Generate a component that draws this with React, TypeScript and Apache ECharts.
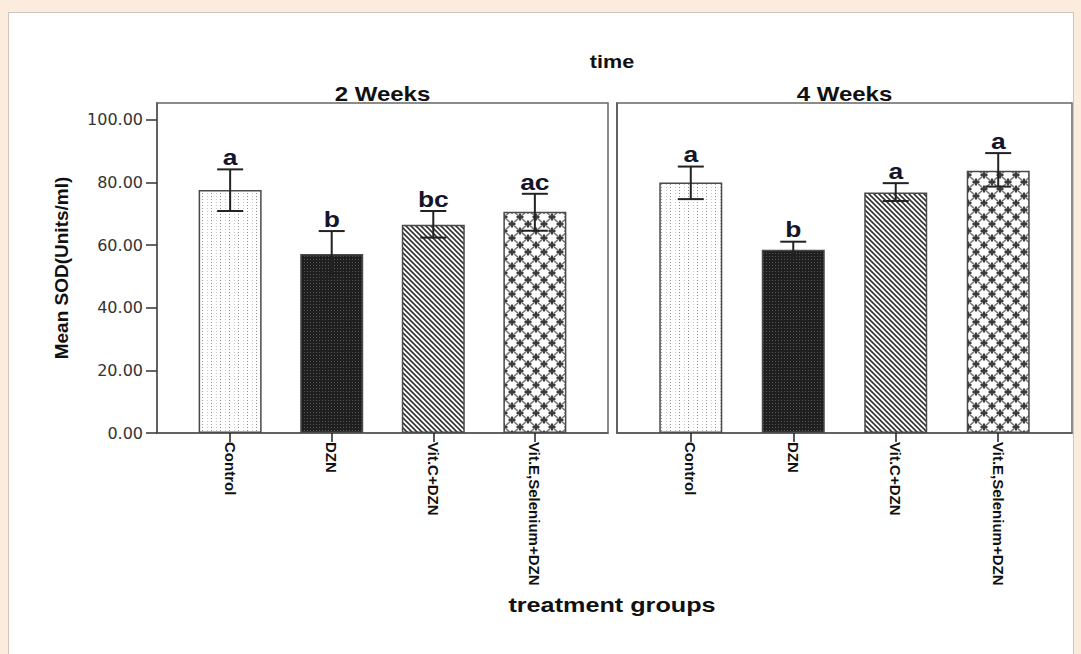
import React, { useEffect, useRef } from "react";
import * as echarts from "echarts";

const groups = ["Control", "DZN", "Vit.C+DZN", "Vit.E,Selenium+DZN"];
const panelTitles = ["2 Weeks", "4 Weeks"];
const means2w = [77.6, 57.2, 66.5, 70.7];
const low2w = [70.9, 50.2, 62.4, 64.6];
const high2w = [84.2, 64.5, 70.9, 76.4];
const letters2w = ["a", "b", "bc", "ac"];
const means4w = [80.0, 58.5, 76.8, 83.8];
const low4w = [74.7, 56.0, 74.1, 78.7];
const high4w = [85.1, 61.1, 79.8, 89.4];
const letters4w = ["a", "b", "a", "a"];
const yTicks = [0, 20, 40, 60, 80, 100];
const xPositions = [0, 1, 2, 3];

const ARIAL = "'Liberation Sans', Arial, sans-serif";

function makeCanvas(w: number, h: number, draw: (ctx: CanvasRenderingContext2D) => void) {
  const c = document.createElement("canvas");
  c.width = w;
  c.height = h;
  const ctx = c.getContext("2d")!;
  draw(ctx);
  return c;
}

function buildPatterns() {
  const dots = makeCanvas(9, 3, (ctx) => {
    ctx.fillStyle = "#ffffff";
    ctx.fillRect(0, 0, 9, 3);
    ctx.fillStyle = "#8f8f8f";
    ctx.fillRect(4, 1, 1, 1);
    ctx.fillStyle = "#c8c8c8";
    ctx.fillRect(0, 1, 1, 1);
  });
  const dark = makeCanvas(3, 3, (ctx) => {
    ctx.fillStyle = "#1f1f1f";
    ctx.fillRect(0, 0, 3, 3);
    ctx.fillStyle = "#555555";
    ctx.fillRect(1, 1, 1, 1);
  });
  const diag = makeCanvas(5, 5, (ctx) => {
    ctx.fillStyle = "#ffffff";
    ctx.fillRect(0, 0, 5, 5);
    ctx.strokeStyle = "#333333";
    ctx.lineWidth = 1.6;
    for (const o of [-5, 0, 5]) {
      ctx.beginPath();
      ctx.moveTo(o - 1, -1);
      ctx.lineTo(o + 6, 6);
      ctx.stroke();
    }
  });
  const lattice = makeCanvas(16, 14, (ctx) => {
    ctx.fillStyle = "#ffffff";
    ctx.fillRect(0, 0, 16, 14);
    ctx.strokeStyle = "#7a7a7a";
    ctx.lineWidth = 1.6;
    ctx.beginPath();
    ctx.moveTo(0, 0); ctx.lineTo(16, 14);
    ctx.moveTo(16, 0); ctx.lineTo(0, 14);
    ctx.stroke();
    ctx.strokeStyle = "#3c3c3c";
    ctx.lineWidth = 2;
    const plus = (x: number, y: number) => {
      ctx.beginPath();
      ctx.moveTo(x - 3.5, y); ctx.lineTo(x + 3.5, y);
      ctx.moveTo(x, y - 3.5); ctx.lineTo(x, y + 3.5);
      ctx.stroke();
    };
    plus(8, 7);
    plus(0, 0); plus(16, 0); plus(0, 14); plus(16, 14);
  });
  return [dots, dark, diag, lattice];
}

export default function App() {
  const ref = useRef<HTMLDivElement>(null);
  useEffect(() => {
    if (!ref.current) return;
    const chart = echarts.init(ref.current, null, { renderer: "svg" });
    const patterns = buildPatterns();
    const panels = [
      { means: means2w, low: low2w, high: high2w, letters: letters2w },
      { means: means4w, low: low4w, high: high4w, letters: letters4w },
    ];
    const grids = [
      { left: 157, top: 103, width: 451, height: 330 },
      { left: 617, top: 103, width: 455, height: 330 },
    ];
    const axisLineStyle = { color: "#555", width: 1.5 };

    const series: any[] = [];
    panels.forEach((p, pi) => {
      series.push({
        type: "bar",
        xAxisIndex: pi,
        yAxisIndex: pi,
        barWidth: 63,
        z: 2,
        data: p.means.map((m, i) => ({
          value: [xPositions[i], m],
          itemStyle: {
            color: { image: patterns[i], repeat: "repeat" },
            borderColor: "#4a4a4a",
            borderWidth: 1.5,
          },
        })),
      });
      series.push({
        type: "custom",
        xAxisIndex: pi,
        yAxisIndex: pi,
        z: 5,
        clip: false,
        data: p.means.map((m, i) => [xPositions[i], m]),
        renderItem: (params: any, api: any) => {
          const idx = params.dataIndex;
          const x = xPositions[idx];
          const hi = api.coord([x, p.high[idx]]);
          const lo = api.coord([x, p.low[idx]]);
          const cap = 13;
          const st = { stroke: "#222", lineWidth: 2 };
          return {
            type: "group",
            children: [
              { type: "line", shape: { x1: hi[0], y1: hi[1], x2: lo[0], y2: lo[1] }, style: st },
              { type: "line", shape: { x1: hi[0] - cap, y1: hi[1], x2: hi[0] + cap, y2: hi[1] }, style: st },
              { type: "line", shape: { x1: lo[0] - cap, y1: lo[1], x2: lo[0] + cap, y2: lo[1] }, style: st },
              {
                type: "text",
                x: hi[0],
                y: hi[1] - 1,
                scaleX: 1.2,
                style: {
                  text: p.letters[idx],
                  fontFamily: ARIAL,
                  fontWeight: "bold",
                  fontSize: 22,
                  fill: "#15152a",
                  align: "center",
                  verticalAlign: "bottom",
                },
              },
            ],
          };
        },
      });
    });

    const option: any = {
      animation: false,
      grid: grids.map((g) => ({
        ...g,
        show: true,
        borderColor: "#666",
        borderWidth: 1.5,
        backgroundColor: "transparent",
      })),
      xAxis: grids.map((_, gi) => ({
        type: "value",
        gridIndex: gi,
        min: -0.72,
        max: 3.72,
        axisLine: { show: true, onZero: false, lineStyle: axisLineStyle },
        splitLine: { show: false },
        axisTick: {
          show: true,
          customValues: xPositions,
          length: 9,
          lineStyle: { color: "#222", width: 1.5 },
        },
        axisLabel: {
          customValues: xPositions,
          rotate: -90,
          margin: 9,
          formatter: (v: number) => groups[Math.round(v)] ?? "",
          fontFamily: ARIAL,
          fontWeight: "bold",
          fontSize: 15,
          color: "#111",
        },
      })),
      yAxis: [
        {
          type: "value",
          gridIndex: 0,
          min: 0,
          max: 105.4,
          axisLine: { show: true, onZero: false, lineStyle: axisLineStyle },
          splitLine: { show: false },
          axisTick: { show: true, customValues: yTicks, length: 11, lineStyle: { color: "#333", width: 1.5 } },
          axisLabel: {
            customValues: yTicks,
            formatter: (v: number) => v.toFixed(2),
            fontFamily: "'DejaVu Sans', sans-serif",
            fontSize: 16,
            color: "#333",
            margin: 14,
          },
          name: "Mean SOD(Units/ml)",
          nameLocation: "middle",
          nameGap: 86,
          nameRotate: 90,
          nameTextStyle: { fontFamily: ARIAL, fontWeight: "bold", fontSize: 19, color: "#111" },
        },
        {
          type: "value",
          gridIndex: 1,
          min: 0,
          max: 105.4,
          axisLine: { show: true, onZero: false, lineStyle: axisLineStyle },
          splitLine: { show: false },
          axisTick: { show: false },
          axisLabel: { show: false },
        },
      ],
      graphic: [
        {
          type: "text", x: 612, y: 62, scaleX: 1.2,
          style: { text: "time", fontFamily: ARIAL, fontWeight: "bold", fontSize: 18, fill: "#111", align: "center", verticalAlign: "middle" },
        },
        ...panelTitles.map((t, i) => ({
          type: "text", x: grids[i].left + grids[i].width / 2, y: 94, scaleX: 1.2,
          style: { text: t, fontFamily: ARIAL, fontWeight: "bold", fontSize: 20, fill: "#111", align: "center", verticalAlign: "middle" },
        })),
        {
          type: "text", x: 612, y: 605, scaleX: 1.2,
          style: { text: "treatment groups", fontFamily: ARIAL, fontWeight: "bold", fontSize: 21, fill: "#111", align: "center", verticalAlign: "middle" },
        },
      ],
      series,
    };
    chart.setOption(option);
    return () => chart.dispose();
  }, []);

  return (
    <div style={{ position: "fixed", left: 0, top: 0, width: 1081, height: 654, background: "#fcecdd", overflow: "hidden" }}>
      <div style={{ position: "absolute", left: 8, top: 12, width: 1066, height: 660, background: "#ffffff", border: "1px solid #cfc5bb", boxSizing: "border-box" }} />
      <div ref={ref} style={{ position: "absolute", left: 0, top: 0, width: 1081, height: 654 }} />
    </div>
  );
}
